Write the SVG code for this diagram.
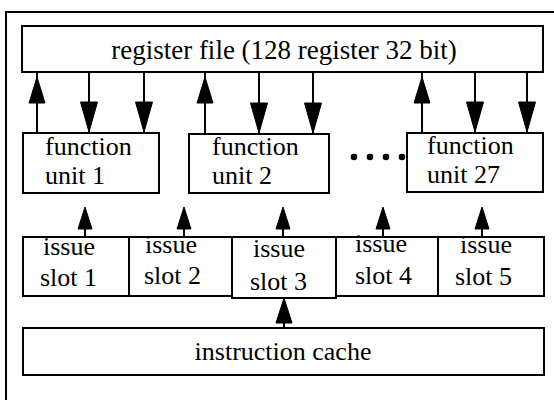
<svg xmlns="http://www.w3.org/2000/svg" xmlns:xlink="http://www.w3.org/1999/xlink" width="554" height="403" viewBox="0 0 554 403">
<style>
.box{fill:#fff;stroke:#000;stroke-width:2}
.frame{fill:none;stroke:#000;stroke-width:2}
.t{font-family:"Liberation Serif","Times New Roman",serif;font-size:26px;fill:#000}
.tc{text-anchor:middle}
.ln{stroke:#000;stroke-width:2;fill:none}
.ah{fill:#000;stroke:#000;stroke-width:1;stroke-linejoin:miter}
</style>
<defs>
<path id="ahUp" class="ah" d="M0,0 L-8,26 L8,26 Z"/>
<path id="ahDown" class="ah" d="M0,0 L-8.5,-30 L8.5,-30 Z"/>
<path id="ahSmall" class="ah" d="M0,0 L-7,22 L7,22 Z"/>
<path id="ahCache" class="ah" d="M0,0 L-8,25 L8,25 Z"/>
</defs>
<rect width="554" height="403" fill="#fff"/>
<g id="frame">
<path class="frame" d="M6,400 L6,12 L554,12"/>
</g>
<g id="register-file">
<rect class="box" x="22" y="26" width="521" height="46"/>
<text class="t tc" x="284" y="59" style="font-size:27px">register file (128 register 32 bit)</text>
</g>
<g id="fu1">
<rect class="box" x="23" y="133" width="136" height="60"/>
<text class="t" x="45" y="155">function</text>
<text class="t" x="45" y="184">unit 1</text>
</g>
<g id="fu2">
<rect class="box" x="189" y="134" width="140" height="59"/>
<text class="t" x="212" y="155">function</text>
<text class="t" x="212" y="184">unit 2</text>
</g>
<g id="dots">
<circle cx="354" cy="157" r="3.3"/>
<circle cx="370" cy="157" r="3.3"/>
<circle cx="386" cy="157" r="3.3"/>
<circle cx="402" cy="157" r="3.3"/>
</g>
<g id="fu27">
<rect class="box" x="407" y="133" width="136" height="59"/>
<text class="t" x="427" y="154">function</text>
<text class="t" x="427" y="183">unit 27</text>
</g>
<g id="slot1">
<rect class="box" x="23" y="237" width="106" height="59"/>
<text class="t" x="43" y="255">issue</text>
<text class="t" x="40" y="286">slot 1</text>
</g>
<g id="slot2">
<rect class="box" x="129" y="237" width="103" height="59"/>
<text class="t" x="145" y="253">issue</text>
<text class="t" x="144" y="284">slot 2</text>
</g>
<g id="slot3">
<rect class="box" x="232" y="237" width="104" height="61"/>
<text class="t" x="253" y="257">issue</text>
<text class="t" x="250" y="290">slot 3</text>
</g>
<g id="slot4">
<rect class="box" x="336" y="237" width="102" height="59"/>
<text class="t" x="355" y="252">issue</text>
<text class="t" x="355" y="284">slot 4</text>
</g>
<g id="slot5">
<rect class="box" x="438" y="237" width="106" height="59"/>
<text class="t" x="460" y="253">issue</text>
<text class="t" x="455" y="285">slot 5</text>
</g>
<g id="instruction-cache">
<rect class="box" x="23" y="328" width="521" height="47"/>
<text class="t tc" x="283" y="360">instruction cache</text>
</g>
<g id="connectors">
<path class="ln" d="M37,133 V72 M205,134 V72 M422,133 V72"/>
<use xlink:href="#ahUp" x="37" y="77"/>
<use xlink:href="#ahUp" x="205" y="77"/>
<use xlink:href="#ahUp" x="422" y="77"/>
<path class="ln" d="M89,72 V133 M144,72 V133 M259,72 V134 M313,72 V134 M475,72 V133 M527,72 V133"/>
<use xlink:href="#ahDown" x="89" y="132"/>
<use xlink:href="#ahDown" x="144" y="132"/>
<use xlink:href="#ahDown" x="259" y="133"/>
<use xlink:href="#ahDown" x="313" y="133"/>
<use xlink:href="#ahDown" x="475" y="132"/>
<use xlink:href="#ahDown" x="527" y="132"/>
<path class="ln" d="M85,237 V215 M184,237 V215 M283,237 V215 M383,237 V215 M482,237 V215"/>
<use xlink:href="#ahSmall" x="85" y="207"/>
<use xlink:href="#ahSmall" x="184" y="207"/>
<use xlink:href="#ahSmall" x="283" y="207"/>
<use xlink:href="#ahSmall" x="383" y="207"/>
<use xlink:href="#ahSmall" x="482" y="207"/>
<path class="ln" d="M284,328 V305"/>
<use xlink:href="#ahCache" x="284" y="298"/>
</g>
</svg>
